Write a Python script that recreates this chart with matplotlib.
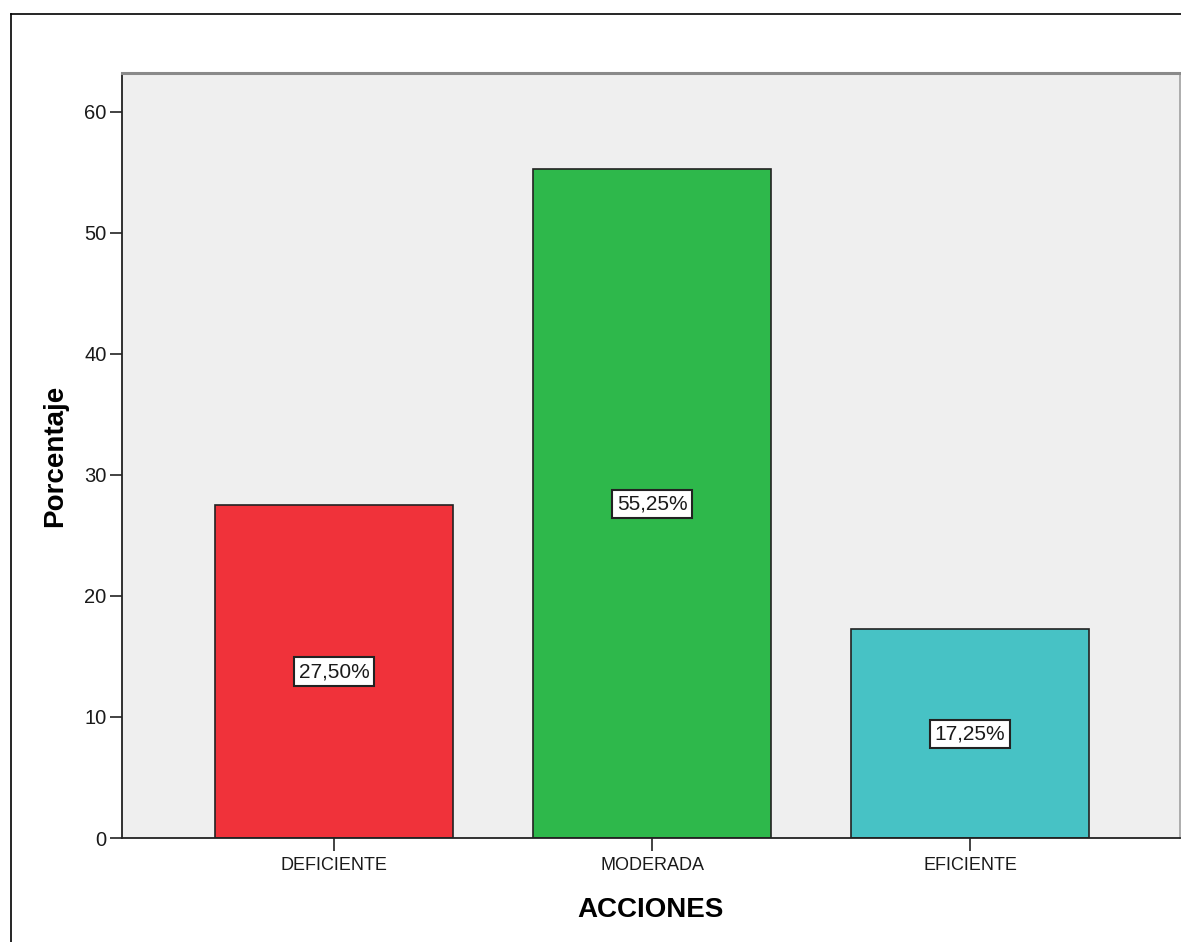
import matplotlib.pyplot as plt
from matplotlib.lines import Line2D

plt.rcParams.update({
    'font.family': ['Liberation Sans', 'DejaVu Sans'],
    'font.size': 13,
})

categories = ['DEFICIENTE', 'MODERADA', 'EFICIENTE']
values = [27.50, 55.25, 17.25]
bar_labels = ['27,50%', '55,25%', '17,25%']
colors = ['#F0323A', '#2EB84B', '#47C2C5']

fig = plt.figure(figsize=(11.81, 9.42), dpi=100)
ax = fig.add_axes([122 / 1181, 104 / 942, 1058 / 1181, 765 / 942])
ax.set_facecolor('#EFEFEF')

x = list(range(len(categories)))
ax.bar(x, values, width=0.75, color=colors, edgecolor='#222222', linewidth=1.2, zorder=2)

# value labels centred in each bar
for xi, v, lab in zip(x, values, bar_labels):
    ax.text(xi, v / 2, lab, ha='center', va='center', fontsize=15, color='#1a1a1a', zorder=3,
            bbox=dict(boxstyle='square,pad=0.22', facecolor='white',
                      edgecolor='#222222', linewidth=1.5))

ax.set_xlim(-0.667, 2.66)
ax.set_ylim(0, 63.2)
ax.set_yticks([0, 10, 20, 30, 40, 50, 60])
ax.set_xticks(x)
ax.set_xticklabels(categories)
ax.tick_params(axis='both', direction='out', length=9, width=1.2, color='#222222',
               labelcolor='#1a1a1a')
ax.tick_params(axis='x', pad=5, labelsize=13)
ax.tick_params(axis='y', pad=2, labelsize=14.5)

ax.set_xlabel('ACCIONES', fontsize=20, fontweight='bold', labelpad=16)
ax.set_ylabel('Porcentaje', fontsize=20, fontweight='bold', labelpad=12)

for side in ['left', 'bottom']:
    ax.spines[side].set_color('#222222')
    ax.spines[side].set_linewidth(1.3)
ax.spines['top'].set_color('#8A8A8A')
ax.spines['top'].set_linewidth(2.2)
ax.spines['right'].set_color('#A0A0A0')
ax.spines['right'].set_linewidth(1.2)

# outer chart frame (left and top edges)
fig.add_artist(Line2D([11 / 1181, 11 / 1181], [0, 1 - 14 / 942], transform=fig.transFigure,
                      color='black', linewidth=1.2))
fig.add_artist(Line2D([11 / 1181, 1], [1 - 14 / 942, 1 - 14 / 942], transform=fig.transFigure,
                      color='black', linewidth=1.2))

fig.savefig('out.png', dpi=100)
